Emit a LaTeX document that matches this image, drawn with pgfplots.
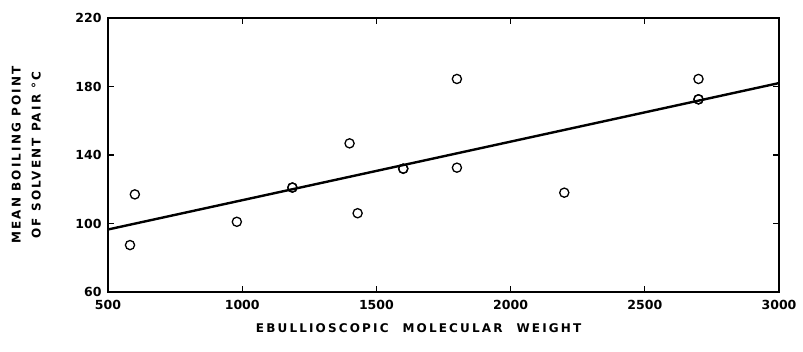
\documentclass[border=0pt]{standalone}
\usepackage{fontspec}
\setmainfont{DejaVu Sans}
\usepackage{pgfplots}
\pgfplotsset{compat=1.18}
\newfontfamily\labfont[LetterSpace=18]{DejaVu Sans}
\begin{document}
\begin{tikzpicture}
\begin{axis}[
  scale only axis,
  width=671pt, height=274pt,
  xmin=500, xmax=3000, ymin=60, ymax=220,
  xtick={500,1000,1500,2000,2500,3000},
  ytick={60,100,140,180,220},
  tick align=inside,
  major tick length=6pt,
  axis line style={line width=1.3pt},
  every tick/.style={line width=1.1pt, black},
  /pgf/number format/assume math mode=true,
  /pgf/number format/1000 sep={},
  tick label style={font=\bfseries\fontsize{12.5}{15}\selectfont},
  xticklabel style={yshift=-5pt},
  yticklabel style={xshift=-3pt},
  xlabel={EBULLIOSCOPIC\hspace{14pt}MOLECULAR\hspace{14pt}WEIGHT},
  ylabel={MEAN BOILING POINT\\OF SOLVENT PAIR °C},
  xlabel style={at={(axis description cs:0.463,-0.102)}, anchor=north, font=\labfont\bfseries\fontsize{12}{14}\selectfont},
  ylabel style={at={(axis description cs:-0.095,0.5)}, rotate=0, anchor=south, align=center, font=\labfont\bfseries\fontsize{12}{20}\selectfont},
  clip=false,
]
\addplot[only marks, mark=o, mark size=4.6pt, mark options={line width=1.3pt, fill=white}] coordinates {
  (582,87.4) (600,117) (980,101) (1187,121) (1400,146.8) (1430,106)
  (1600,132) (1800,184.4) (1800,132.6) (2200,118) (2700,184.4) (2700,172.5)
};
\addplot[line width=2.4pt, black] coordinates {(500,96.5) (3000,182)};
\addplot[only marks, mark=o, mark size=4.6pt, mark options={line width=1.3pt, fill=white}] coordinates {
  (1187,121) (1600,132) (2700,172.5)
};
\path (rel axis cs:0,0) ++(-108pt,-59pt) coordinate (bbA);
\path (rel axis cs:1,1) ++(24pt,18pt) coordinate (bbB);
\end{axis}
\useasboundingbox (bbA) rectangle (bbB);
\end{tikzpicture}
\end{document}
